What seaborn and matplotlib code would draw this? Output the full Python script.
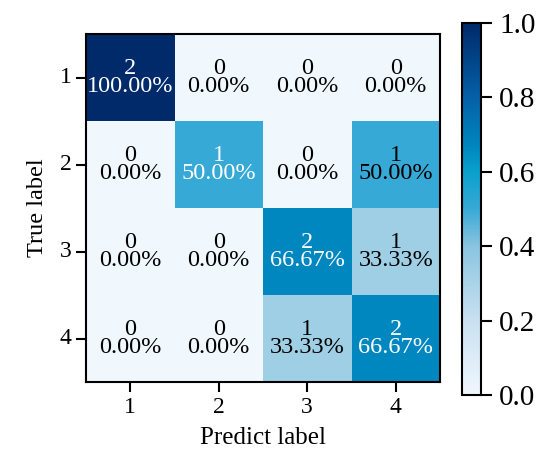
import numpy as np
import matplotlib
matplotlib.use("Agg")
import matplotlib.pyplot as plt
from matplotlib.colors import LinearSegmentedColormap
import seaborn as sns

# Confusion matrix counts (rows: true label, columns: predicted label)
labels = ["1", "2", "3", "4"]
counts = np.array([
    [2, 0, 0, 0],
    [0, 1, 0, 1],
    [0, 0, 2, 1],
    [0, 0, 1, 2],
])

plt.rcParams["font.family"] = ["Liberation Serif", "DejaVu Serif"]

# Row-normalised rates drive the colours
rates = counts / counts.sum(axis=1, keepdims=True)
annot = np.array([[f"{c}\n{r * 100:.2f}%" for c, r in zip(crow, rrow)]
                  for crow, rrow in zip(counts, rates)])

cmap = LinearSegmentedColormap.from_list("cm_blues", [
    (0.0, "#f0f7fd"),
    (0.2, "#c9e0f1"),
    (0.333, "#9fcfe5"),
    (0.4, "#8ac3e0"),
    (0.5, "#38a9d6"),
    (0.6, "#0aa0cd"),
    (0.667, "#0087c0"),
    (0.8, "#0560a8"),
    (1.0, "#002a6a"),
])

W, H = 542, 459
fig = plt.figure(figsize=(W / 100, H / 100), dpi=100)
ax = fig.add_axes([86 / W, 1 - 382 / H, 354 / W, 348 / H])
cax = fig.add_axes([462 / W, 1 - 395 / H, 19 / W, 372 / H])

sns.heatmap(rates, ax=ax, cbar_ax=cax, cmap=cmap, vmin=0, vmax=1,
            annot=annot, fmt="", xticklabels=labels, yticklabels=labels,
            annot_kws={"fontsize": 17.5, "linespacing": 0.82}, square=False)

# Diagonal annotations in white, the rest in black
n = len(labels)
for k, t in enumerate(ax.texts):
    i, j = divmod(k, n)
    t.set_color("white" if i == j else "black")

for s in ax.spines.values():
    s.set_visible(True)
    s.set_linewidth(1.5)
    s.set_color("black")

ax.tick_params(axis="both", length=7, width=1.5, labelsize=17, colors="black")
ax.set_yticklabels(labels, rotation=0)
ax.set_xticklabels(labels, rotation=0)
ax.set_xlabel("Predict label", fontsize=18, labelpad=7)
ax.set_ylabel("True label", fontsize=17.5, labelpad=8)

cbar = ax.collections[0].colorbar
cbar.set_ticks([0.0, 0.2, 0.4, 0.6, 0.8, 1.0])
cbar.ax.tick_params(labelsize=21, length=8, width=1.5, pad=5)
cbar.outline.set_visible(True)
cbar.outline.set_linewidth(1.5)
cbar.outline.set_edgecolor("black")

fig.savefig("out.png", dpi=100)
